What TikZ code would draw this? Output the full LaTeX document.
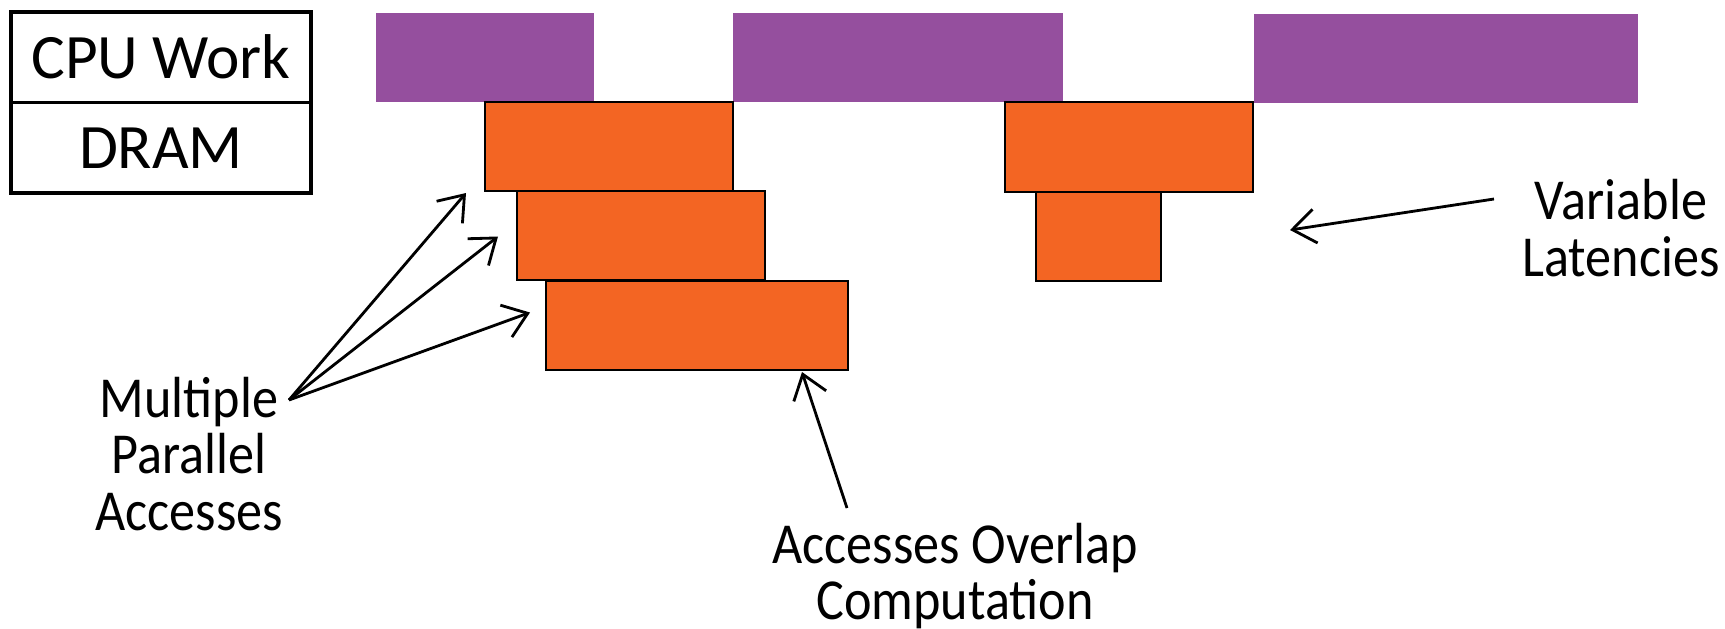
\documentclass[tikz,border=0pt]{standalone}
\usepackage{fontspec}
\setmainfont{Carlito}
\newfontfamily\notefont[FakeStretch=0.9]{Carlito}
\usetikzlibrary{arrows.meta}
\definecolor{cpupurple}{RGB}{149,79,158}
\definecolor{dramorange}{RGB}{243,101,35}
\tikzset{
  box/.style={rectangle, inner sep=0pt, outer sep=0pt, anchor=north west},
  cpubar/.style={box, fill=cpupurple, minimum height=0.89cm},
  access/.style={box, fill=dramorange, draw=black, line width=0.6pt, minimum height=0.89cm},
  legendcell/.style={box, draw=black, line width=0.9pt, minimum width=3.0cm, minimum height=0.905cm, font=\fontsize{18}{20}\selectfont},
  note/.style={align=center, inner sep=0pt, font=\notefont\fontsize{16.5}{16}\selectfont},
  pointer/.style={-{Straight Barb[length=2.3mm,width=3.4mm,line width=0.8pt]}, line width=0.8pt}
}
\begin{document}
\begin{tikzpicture}
\useasboundingbox (0,0) rectangle (17.25,-6.29);

% legend
\node[legendcell] (cpulbl) at (0.11,-0.12) {CPU Work};
\node[legendcell] (dramlbl) at (0.11,-1.025) {DRAM};

% CPU work phases
\node[cpubar, minimum width=2.18cm] (p1) at (3.76,-0.13) {};
\node[cpubar, minimum width=3.30cm] (p2) at (7.33,-0.13) {};
\node[cpubar, minimum width=3.84cm] (p3) at (12.54,-0.14) {};

% DRAM accesses
\node[access, minimum width=2.48cm] (o1) at (4.85,-1.02) {};
\node[access, minimum width=2.48cm] (o2) at (5.17,-1.91) {};
\node[access, minimum width=3.02cm] (o3) at (5.46,-2.81) {};
\node[access, minimum width=2.48cm, minimum height=0.90cm] (o4) at (10.05,-1.02) {};
\node[access, minimum width=1.25cm] (o5) at (10.36,-1.92) {};

% annotations
\node[note] (mpa) at (1.89,-4.54) {Multiple\\Parallel\\Accesses};
\node[note] (aoc) at (9.55,-5.76) {Accesses Overlap\\Computation};
\node[note] (vl) at (16.21,-2.28) {Variable\\Latencies};

\coordinate (mpt) at (2.89,-4.00);
\coordinate (aot) at (8.47,-5.08);
\coordinate (vlt) at (14.94,-1.99);

\draw[pointer] (mpt) -- ([xshift=-0.19cm,yshift=-0.02cm]o1.south west);
\draw[pointer] (mpt) -- ([xshift=-0.19cm,yshift=-0.01cm]o2.west);
\draw[pointer] (mpt) -- ([xshift=-0.16cm,yshift=0.13cm]o3.west);
\draw[pointer] (aot) -- ([xshift=-0.46cm,yshift=-0.02cm]o3.south east);
\draw[pointer] (vlt) -- ([xshift=0.37cm,yshift=-0.38cm]o4.south east);
\end{tikzpicture}
\end{document}
